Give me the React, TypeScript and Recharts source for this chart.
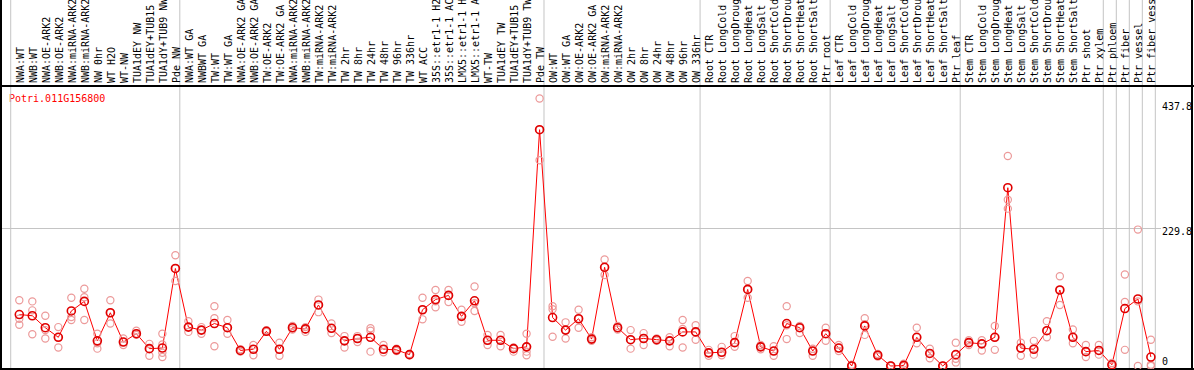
import React from 'react';
import { ComposedChart, Line, Scatter, XAxis, YAxis, ReferenceLine } from 'recharts';

const FONT = "'DejaVu Sans Mono', monospace";

const geneId = 'Potri.011G156800';

const categories = [
  'NWA:WT', 'NWB:WT', 'NWA:OE-ARK2', 'NWB:OE-ARK2', 'NWA:miRNA-ARK2', 'NWB:miRNA-ARK2', 'NW 0hr', 'WT H2O', 'WT-NW',
  'TUA1dEY NW', 'TUA1dEY+TUB15 NW', 'TUA1dY+TUB9 NW', 'Pde NW',
  'NWA:WT GA', 'NWBWT GA', 'TW:WT', 'TW:WT GA', 'NWA:OE-ARK2 GA', 'NWB:OE-ARK2 GA', 'TW:OE-ARK2', 'TW:OE-ARK2 GA',
  'NWA:miRNA-ARK2 GA', 'NWB:miRNA-ARK2 GA', 'TW:miRNA-ARK2', 'TW:miRNA-ARK2 GA', 'TW 2hr', 'TW 8hr', 'TW 24hr', 'TW 48hr',
  'TW 96hr', 'TW 336hr', 'WT ACC', '35S::etr1-1 H2O', '35S::etr1-1 ACC', 'LMX5::etr1-1 H2O', 'LMX5::etr1-1 ACC', 'WT-TW',
  'TUA1dEY TW', 'TUA1dEY+TUB15 TW', 'TUA1dY+TUB9 TW', 'Pde TW',
  'OW:WT', 'OW:WT GA', 'OW:OE-ARK2', 'OW:OE-ARK2 GA', 'OW:miRNA-ARK2', 'OW:miRNA-ARK2 GA', 'OW 2hr', 'OW 8hr', 'OW 24hr',
  'OW 48hr', 'OW 96hr', 'OW 336hr',
  'Root CTR', 'Root LongCold', 'Root LongDrought', 'Root LongHeat', 'Root LongSalt', 'Root ShortCold', 'Root ShortDrought',
  'Root ShortHeat', 'Root ShortSalt', 'Ptr root',
  'Leaf CTR', 'Leaf LongCold', 'Leaf LongDrought', 'Leaf LongHeat', 'Leaf LongSalt', 'Leaf ShortCold', 'Leaf ShortDrought',
  'Leaf ShortHeat', 'Leaf ShortSalt', 'Ptr leaf',
  'Stem CTR', 'Stem LongCold', 'Stem LongDrought', 'Stem LongHeat', 'Stem LongSalt', 'Stem ShortCold', 'Stem ShortDrought',
  'Stem ShortHeat', 'Stem ShortSalt', 'Ptr shoot', 'Ptr xylem',
  'Ptr phloem', 'Ptr fiber', 'Ptr vessel', 'Ptr fiber vessel',
];

const means = [
  86, 84, 64, 48, 92, 108, 42, 89, 40, 54, 29, 30, 163,
  65, 60, 71, 64, 26, 28, 58, 28, 64, 62, 102, 63, 42, 46, 48, 28, 27, 19, 94, 111, 118, 83, 109, 43, 43, 29, 32, 395,
  81, 60, 79, 45, 165, 64, 44, 46, 44, 42, 57, 57,
  22, 23, 39, 128, 32, 25, 71, 64, 25, 54,
  30, 0, 67, 18, 0, 1, 48, 21, 0, 19,
  39, 37, 48, 298, 30, 28, 59, 127, 48, 24, 26,
  2, 96, 112, 15,
];

const replicates = [
  [110, 79, 69], [108, 93, 53], [84, 60, 46], [65, 48, 31], [114, 82, 77], [129, 115, 77], [54, 38, 29], [110, 89, 71],
  [46, 40, 35], [59, 54, 52], [37, 29, 17], [54, 36, 22, 15], [185, 163, 142],
  [75, 65, 57], [65, 60, 54], [100, 80, 33], [77, 64, 54], [28, 26, 24], [35, 28, 18], [60, 58, 57], [39, 28, 17],
  [67, 64, 61], [65, 61, 57], [111, 102, 90], [71, 63, 55], [50, 42, 31], [50, 46, 40], [63, 59, 24], [35, 28, 23],
  [29, 27, 25], [20, 19, 18], [114, 94, 78], [127, 108, 98], [127, 118, 107], [94, 83, 74], [133, 105, 92], [52, 43, 35],
  [52, 43, 33], [31, 29, 24], [54, 32, 24, 18], [447, 395, 344],
  [100, 95, 49], [73, 60, 46], [94, 79, 64], [48, 45, 42], [178, 165, 152], [67, 64, 61], [60, 44, 29], [55, 46, 35],
  [46, 44, 42], [48, 42, 33], [77, 62, 31], [68, 57, 44],
  [27, 22, 17], [32, 23, 18], [50, 39, 32], [142, 128, 114], [35, 32, 28], [33, 25, 17], [100, 68, 45], [67, 64, 55],
  [29, 25, 17], [64, 54, 42],
  [35, 30, 25], [2, 0, 0], [80, 70, 52], [20, 18, 16], [1, 0, 0], [4, 0, 0], [64, 48, 38], [29, 21, 13], [0, 0, 0],
  [39, 12, 6],
  [43, 39, 35], [43, 37, 26], [67, 48, 27], [351, 278, 263], [39, 30, 17], [42, 28, 19], [75, 59, 48], [150, 127, 102],
  [61, 48, 38], [35, 24, 15], [35, 26, 19],
  [5, 1, 0], [153, 107, 27], [228, 108, 0], [44, 2, 0],
];

const yTicks = [0, 229.8, 437.8];
const groupStarts = [0, 13, 41, 53, 63, 73, 84, 85, 86, 87, 88];

const lineData = means.map((v, i) => ({ x: i, y: v }));
const repData = replicates.flatMap((arr, i) => arr.map((v) => ({ x: i, y: v })));
const xTicks = categories.map((_, i) => i);

const X_DOMAIN: [number, number] = [-1.407, 90.16];
const Y_DOMAIN: [number, number] = [-5.01, 468];
const X_LEFT_EDGE = -1.484;
const X_RIGHT_EDGE = 90.31;
const X_GRID_END = 87.78;
const Y_PAGE_TOP = 611.7;
const Y_PAGE_BOTTOM = -6.7;
const BOUNDARY_OFFSET = 0.66;

const CatTick = (props: any) => {
  const { x, payload } = props;
  const tx = x + 4.5;
  const ty = 83;
  return (
    <text
      x={tx}
      y={ty}
      transform={`rotate(-90 ${tx} ${ty})`}
      fontFamily={FONT}
      fontSize={10}
      fill="#000"
      textAnchor="start"
    >
      {categories[payload.value]}
    </text>
  );
};

const ValTick = (props: any) => {
  const { y, payload } = props;
  return (
    <text x={1162} y={Math.min(y + 6, 365)} fontFamily={FONT} fontSize={10} fill="#000" textAnchor="start">
      {String(payload.value)}
    </text>
  );
};

const MeanDot = (props: any) => {
  const { cx, cy, index } = props;
  if (cx == null || cy == null) return <g key={`m${index}`} />;
  return <circle key={`m${index}`} cx={cx} cy={cy} r={4} fill="none" stroke="#e00000" strokeWidth={1.6} />;
};

const RepDot = (props: any) => {
  const { cx, cy } = props;
  return <circle cx={cx} cy={cy} r={3.6} fill="none" stroke="#ec9a9a" strokeWidth={1.2} />;
};

export default function App() {
  return (
    <div style={{ position: 'absolute', left: 0, top: 0, width: 1194, height: 370, background: '#fff' }}>
      <ComposedChart width={1194} height={370} margin={{ top: 0, right: 0, left: 1, bottom: 1 }}>
        <XAxis
          type="number"
          dataKey="x"
          orientation="top"
          domain={X_DOMAIN}
          allowDataOverflow
          ticks={xTicks}
          interval={0}
          height={86}
          axisLine={false}
          tickLine={false}
          tick={<CatTick />}
        />
        <YAxis
          type="number"
          dataKey="y"
          orientation="right"
          domain={Y_DOMAIN}
          allowDataOverflow
          ticks={yTicks}
          interval={0}
          width={2}
          axisLine={false}
          tickLine={false}
          tick={<ValTick />}
        />
        {groupStarts.map((g) => (
          <ReferenceLine
            key={`g${g}`}
            ifOverflow="visible"
            segment={[
              { x: g - BOUNDARY_OFFSET, y: Y_PAGE_TOP },
              { x: g - BOUNDARY_OFFSET, y: Y_DOMAIN[0] },
            ]}
            stroke="#c4c4c4"
            strokeWidth={1}
          />
        ))}
        <ReferenceLine
          ifOverflow="visible"
          segment={[
            { x: X_DOMAIN[0], y: 229.8 },
            { x: X_GRID_END, y: 229.8 },
          ]}
          stroke="#c4c4c4"
          strokeWidth={1}
        />
        <Scatter data={repData} dataKey="y" shape={<RepDot />} isAnimationActive={false} />
        <Line
          data={lineData}
          dataKey="y"
          type="linear"
          stroke="#ff0000"
          strokeWidth={1}
          dot={MeanDot}
          activeDot={false}
          isAnimationActive={false}
        />
        <ReferenceLine
          ifOverflow="visible"
          segment={[
            { x: X_DOMAIN[0], y: Y_PAGE_TOP },
            { x: X_DOMAIN[0], y: Y_PAGE_BOTTOM },
          ]}
          stroke="#000"
          strokeWidth={2}
        />
        <ReferenceLine
          ifOverflow="visible"
          segment={[
            { x: X_DOMAIN[1], y: Y_PAGE_TOP },
            { x: X_DOMAIN[1], y: Y_PAGE_BOTTOM },
          ]}
          stroke="#000"
          strokeWidth={2}
        />
        <ReferenceLine
          ifOverflow="visible"
          segment={[
            { x: X_LEFT_EDGE, y: Y_DOMAIN[1] },
            { x: X_RIGHT_EDGE, y: Y_DOMAIN[1] },
          ]}
          stroke="#000"
          strokeWidth={2}
        />
        <ReferenceLine
          ifOverflow="visible"
          segment={[
            { x: X_LEFT_EDGE, y: Y_DOMAIN[0] },
            { x: X_RIGHT_EDGE, y: Y_DOMAIN[0] },
          ]}
          stroke="#000"
          strokeWidth={2}
        />
        <text x={9} y={101.5} fontFamily={FONT} fontSize={10} fill="#ff0000">
          {geneId}
        </text>
      </ComposedChart>
    </div>
  );
}
